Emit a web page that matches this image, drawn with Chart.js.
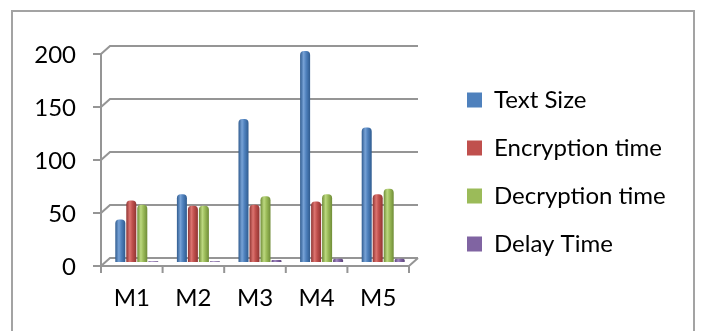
<!DOCTYPE html>
<html>
<head>
<meta charset="utf-8">
<script src="https://cdn.jsdelivr.net/npm/chart.js@4/dist/chart.umd.min.js"></script>
<style>
  html, body { margin: 0; padding: 0; background: #ffffff; }
  #wrap { position: relative; width: 701px; height: 331px; overflow: hidden; }
  canvas { display: block; }
</style>
</head>
<body>
<div id="wrap"><canvas id="c" width="701" height="331"></canvas></div>
<script>
// ---- data ----
const categories = ['M1', 'M2', 'M3', 'M4', 'M5'];
const textSize       = [40, 64, 135, 199, 127];
const encryptionTime = [58, 53, 54, 57, 64];
const decryptionTime = [54, 53, 62, 64, 69];
const delayTime      = [0.6, 0.6, 1.8, 3, 3];
const seriesNames = ['Text Size', 'Encryption time', 'Decryption time', 'Delay Time'];
const yTicks = [0, 50, 100, 150, 200];

const FONT = 'Lato, "Open Sans", "DejaVu Sans", sans-serif';
const GRID = '#959595';

function cyl(base, dark, light) {
  return (ctx) => {
    const el = ctx.element;
    if (!el || el.x == null || !isFinite(el.x) || !el.width) return base;
    const x0 = el.x - el.width / 2, x1 = el.x + el.width / 2;
    const g = ctx.chart.ctx.createLinearGradient(x0, 0, x1, 0);
    g.addColorStop(0, dark);
    g.addColorStop(0.35, light);
    g.addColorStop(0.6, base);
    g.addColorStop(1, dark);
    return g;
  };
}

const pseudo3d = {
  id: 'pseudo3d',
  beforeDraw(chart) {
    const c = chart.ctx;
    c.save();
    c.strokeStyle = '#a3a3a3';
    c.lineWidth = 2;
    c.strokeRect(12, 11, 682, 400);
    c.restore();
  },
  beforeDatasetsDraw(chart) {
    const c = chart.ctx, ys = chart.scales.y;
    const fL = chart.chartArea.left - 5, fR = chart.chartArea.right - 5;
    const bL = chart.chartArea.left + 4, bR = chart.chartArea.right + 4;
    const fOff = 4, bOff = -4;
    c.save();
    c.strokeStyle = GRID;
    c.lineWidth = 2;
    c.beginPath();
    yTicks.forEach(v => {
      const y = ys.getPixelForValue(v);
      const yf = y + fOff, yb = y + bOff;
      c.moveTo(fL - 8, yf); c.lineTo(fL, yf);
      c.moveTo(fL, yf); c.lineTo(bL, yb); c.lineTo(bR, yb);
    });
    const y0 = ys.getPixelForValue(0), yTop = ys.getPixelForValue(200);
    c.moveTo(fL, yTop + fOff); c.lineTo(fL, y0 + fOff + 7);
    c.moveTo(fL, y0 + fOff); c.lineTo(fR, y0 + fOff); c.lineTo(bR, y0 + bOff);
    const n = categories.length, step = (fR - fL) / n;
    for (let i = 1; i <= n; i++) {
      const x = fL + i * step;
      c.moveTo(x, y0 + fOff); c.lineTo(x, y0 + fOff + 7);
    }
    c.stroke();
    c.restore();
  },
  afterLayout(chart) {
    const lg = chart.legend;
    if (!lg) return;
    lg.update(300, 240, { left: 0, top: 0, right: 0, bottom: 0 });
    const w = lg.width, h = lg.height;
    lg.left = 443; lg.right = 443 + w;
    lg.top = 64; lg.bottom = 64 + h;
  }
};

const chart = new Chart(document.getElementById('c'), {
  type: 'bar',
  data: {
    labels: categories,
    datasets: [
      { label: seriesNames[0], data: textSize,
        backgroundColor: cyl('#4F81BD', '#2f5b8f', '#77a2d6'), legendColor: '#4F81BD' },
      { label: seriesNames[1], data: encryptionTime,
        backgroundColor: cyl('#C0504D', '#8f3432', '#dc7470'), legendColor: '#C0504D' },
      { label: seriesNames[2], data: decryptionTime,
        backgroundColor: cyl('#9BBB59', '#6f8c37', '#bcd87f'), legendColor: '#9BBB59' },
      { label: seriesNames[3], data: delayTime,
        backgroundColor: cyl('#8064A2', '#5b437a', '#a288c2'), legendColor: '#8064A2' }
    ]
  },
  options: {
    responsive: false,
    animation: false,
    devicePixelRatio: 1,
    layout: { padding: { top: 50, bottom: 0, left: 0, right: 287 } },
    datasets: { bar: { barPercentage: 0.91, categoryPercentage: 0.714, borderWidth: 0, borderRadius: { topLeft: 4, topRight: 4 }, borderSkipped: 'bottom' } },
    scales: {
      y: {
        position: 'left',
        min: 0, max: 200,
        afterBuildTicks: (s) => { s.ticks = yTicks.map(v => ({ value: v })); },
        afterFit: (s) => { s.width = 106; },
        grid: { display: false, drawTicks: false },
        border: { display: false },
        ticks: { padding: 30, labelOffset: 5, color: '#000', font: { family: FONT, size: 24 } }
      },
      x: {
        afterFit: (s) => { s.height = 69; },
        grid: { display: false, drawTicks: false },
        border: { display: false },
        ticks: { padding: 22, labelOffset: -5, color: '#000', font: { family: FONT, size: 24 } }
      }
    },
    plugins: {
      tooltip: { enabled: false },
      legend: {
        position: 'chartArea',
        align: 'start',
        labels: {
          boxWidth: 15, boxHeight: 15, padding: 24, color: '#000',
          font: { family: FONT, size: 24 },
          generateLabels: (ch) => ch.data.datasets.map((d, i) => ({
            text: d.label, fillStyle: d.legendColor, strokeStyle: d.legendColor,
            lineWidth: 0, hidden: false, datasetIndex: i, fontColor: '#000'
          }))
        }
      }
    }
  },
  plugins: [pseudo3d]
});
chart.update();
</script>
</body>
</html>
